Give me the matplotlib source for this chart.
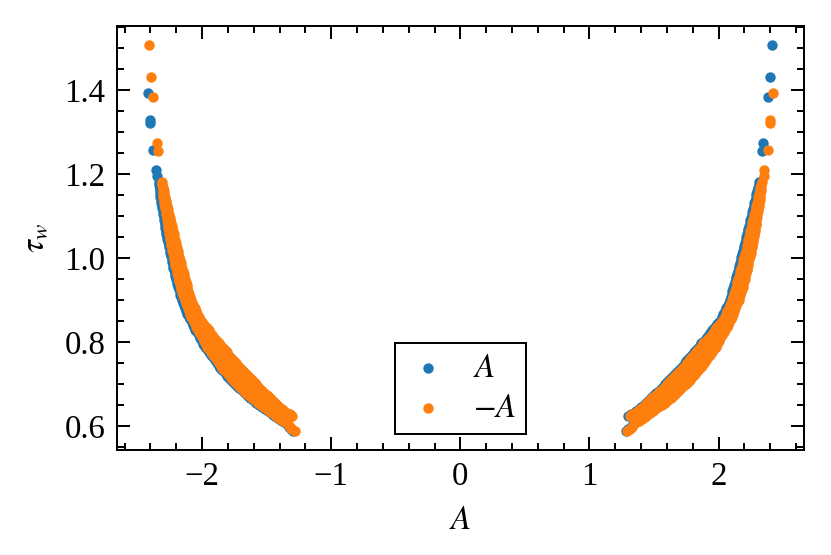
import numpy as np
import matplotlib.pyplot as plt

plt.rcParams['font.family'] = 'serif'
plt.rcParams['font.serif'] = ['Liberation Serif', 'DejaVu Serif']
plt.rcParams['mathtext.fontset'] = 'stix'
plt.rcParams['font.size'] = 10

# right branch (A > 0), read as three lines across the band
right_outer_A = [2.311, 2.309, 2.306, 2.304, 2.302, 2.300, 2.297, 2.293, 2.289, 2.286,
                 2.282, 2.278, 2.274, 2.271, 2.267, 2.264, 2.261, 2.258, 2.254, 2.250,
                 2.246, 2.242, 2.237, 2.233, 2.229, 2.225, 2.220, 2.216, 2.211, 2.207,
                 2.202, 2.197, 2.192, 2.187, 2.182, 2.177, 2.172, 2.166, 2.159, 2.153,
                 2.147, 2.141, 2.134, 2.126, 2.117, 2.109, 2.101, 2.093, 2.084, 2.073,
                 2.061, 2.050, 2.043, 2.032, 2.020, 2.007, 1.994, 1.981, 1.973, 1.960,
                 1.947, 1.932, 1.916, 1.901, 1.886, 1.871, 1.855, 1.842, 1.828, 1.815,
                 1.801, 1.787, 1.773, 1.760, 1.746, 1.730, 1.713, 1.697, 1.681, 1.665,
                 1.648, 1.632, 1.615, 1.592, 1.568, 1.547, 1.523, 1.500, 1.479, 1.458,
                 1.437, 1.416, 1.395, 1.374, 1.352, 1.335, 1.318, 1.301, 1.284]
right_outer_tau = [1.181, 1.174, 1.166, 1.159, 1.152, 1.145, 1.138, 1.131, 1.124, 1.118,
                   1.111, 1.104, 1.097, 1.091, 1.084, 1.078, 1.071, 1.065, 1.058, 1.052,
                   1.045, 1.038, 1.031, 1.025, 1.018, 1.011, 1.004, 0.997, 0.990, 0.984,
                   0.977, 0.971, 0.964, 0.958, 0.951, 0.945, 0.938, 0.932, 0.925, 0.919,
                   0.913, 0.907, 0.900, 0.894, 0.887, 0.880, 0.873, 0.867, 0.860, 0.854,
                   0.848, 0.841, 0.835, 0.829, 0.823, 0.816, 0.810, 0.803, 0.796, 0.789,
                   0.783, 0.777, 0.770, 0.764, 0.757, 0.751, 0.744, 0.739, 0.734, 0.730,
                   0.725, 0.720, 0.715, 0.710, 0.705, 0.701, 0.696, 0.691, 0.686, 0.681,
                   0.676, 0.671, 0.666, 0.661, 0.656, 0.651, 0.645, 0.641, 0.636, 0.631,
                   0.626, 0.622, 0.617, 0.613, 0.609, 0.604, 0.599, 0.594, 0.589]

right_mid_A = [2.052, 2.028, 2.005, 1.981, 1.957, 1.934, 1.911, 1.888, 1.865, 1.839,
               1.813, 1.787, 1.761, 1.733, 1.705, 1.677, 1.649, 1.615, 1.581, 1.547, 1.513]
right_mid_tau = [0.858, 0.848, 0.837, 0.827, 0.817, 0.807, 0.797, 0.787, 0.777, 0.766,
                 0.756, 0.746, 0.736, 0.726, 0.717, 0.707, 0.697, 0.687, 0.677, 0.667, 0.657]

right_inner_A = [2.301, 2.296, 2.291, 2.286, 2.281, 2.276, 2.271, 2.266, 2.260, 2.255,
                 2.250, 2.245, 2.240, 2.235, 2.229, 2.224, 2.219, 2.214, 2.209, 2.204,
                 2.199, 2.194, 2.189, 2.183, 2.177, 2.172, 2.166, 2.160, 2.154, 2.148,
                 2.142, 2.137, 2.131, 2.125, 2.119, 2.113, 2.106, 2.100, 2.093, 2.087,
                 2.080, 2.069, 2.058, 2.048, 2.037, 2.026, 2.015, 2.003, 1.991, 1.976,
                 1.961, 1.949, 1.937, 1.925, 1.913, 1.899, 1.885, 1.866, 1.852, 1.838,
                 1.824, 1.810, 1.796, 1.781, 1.766, 1.751, 1.736, 1.721, 1.706, 1.691,
                 1.676, 1.661, 1.645, 1.630, 1.614, 1.599, 1.584, 1.569, 1.553, 1.535,
                 1.517, 1.500, 1.482, 1.465, 1.451, 1.435, 1.419, 1.401, 1.381, 1.362,
                 1.342, 1.322, 1.302]
right_inner_tau = [1.166, 1.159, 1.151, 1.144, 1.136, 1.130, 1.123, 1.116, 1.109, 1.103,
                   1.096, 1.090, 1.083, 1.077, 1.070, 1.064, 1.057, 1.050, 1.043, 1.036,
                   1.029, 1.023, 1.016, 1.009, 1.002, 0.995, 0.988, 0.981, 0.974, 0.968,
                   0.961, 0.955, 0.949, 0.943, 0.936, 0.929, 0.922, 0.915, 0.908, 0.901,
                   0.894, 0.887, 0.880, 0.874, 0.867, 0.860, 0.853, 0.848, 0.843, 0.838,
                   0.833, 0.828, 0.822, 0.817, 0.812, 0.807, 0.802, 0.797, 0.791, 0.786,
                   0.781, 0.776, 0.770, 0.765, 0.760, 0.755, 0.749, 0.744, 0.739, 0.734,
                   0.728, 0.723, 0.718, 0.714, 0.709, 0.704, 0.699, 0.694, 0.689, 0.684,
                   0.679, 0.674, 0.669, 0.664, 0.659, 0.654, 0.649, 0.645, 0.640, 0.636,
                   0.632, 0.628, 0.623]

# left branch (A < 0), same tau levels, sits a little further out
left_outer_A = [-2.333, -2.331, -2.328, -2.326, -2.324, -2.322, -2.319, -2.315, -2.311, -2.308,
                -2.304, -2.300, -2.296, -2.293, -2.289, -2.286, -2.283, -2.280, -2.276, -2.272,
                -2.268, -2.264, -2.259, -2.255, -2.251, -2.247, -2.242, -2.236, -2.231, -2.227,
                -2.222, -2.217, -2.212, -2.207, -2.202, -2.197, -2.192, -2.186, -2.179, -2.173,
                -2.167, -2.161, -2.154, -2.146, -2.137, -2.129, -2.121, -2.113, -2.104, -2.093,
                -2.081, -2.070, -2.063, -2.052, -2.040, -2.027, -2.014, -2.001, -1.989, -1.976,
                -1.963, -1.948, -1.932, -1.917, -1.902, -1.887, -1.871, -1.858, -1.844, -1.831,
                -1.817, -1.803, -1.789, -1.776, -1.762, -1.746, -1.726, -1.710, -1.694, -1.678,
                -1.661, -1.645, -1.628, -1.605, -1.581, -1.560, -1.533, -1.510, -1.489, -1.468,
                -1.447, -1.426, -1.405, -1.384, -1.362, -1.345, -1.328, -1.311, -1.294]
left_mid_A = [-2.072, -2.048, -2.025, -2.001, -1.977, -1.954, -1.927, -1.904, -1.881, -1.855,
              -1.829, -1.803, -1.777, -1.749, -1.721, -1.693, -1.662, -1.628, -1.594, -1.560, -1.526]
left_inner_A = [-2.323, -2.318, -2.313, -2.308, -2.303, -2.298, -2.293, -2.288, -2.282, -2.277,
                -2.272, -2.267, -2.262, -2.257, -2.251, -2.246, -2.241, -2.236, -2.231, -2.226,
                -2.221, -2.216, -2.211, -2.205, -2.199, -2.192, -2.186, -2.180, -2.174, -2.168,
                -2.162, -2.157, -2.151, -2.145, -2.139, -2.133, -2.126, -2.120, -2.113, -2.107,
                -2.100, -2.089, -2.078, -2.068, -2.057, -2.046, -2.035, -2.023, -2.011, -1.996,
                -1.981, -1.969, -1.957, -1.945, -1.933, -1.919, -1.905, -1.882, -1.868, -1.854,
                -1.840, -1.826, -1.812, -1.797, -1.782, -1.767, -1.752, -1.737, -1.722, -1.707,
                -1.692, -1.677, -1.661, -1.646, -1.630, -1.615, -1.597, -1.582, -1.566, -1.548,
                -1.530, -1.513, -1.495, -1.478, -1.464, -1.448, -1.429, -1.411, -1.391, -1.372,
                -1.352, -1.332, -1.312]

# isolated points at the top of each branch
right_top_A = [2.411, 2.396, 2.382, 2.346, 2.338]
right_top_tau = [1.506, 1.430, 1.382, 1.274, 1.254]
left_top_A = [-2.419, -2.401, -2.401, -2.380, -2.355, -2.349]
left_top_tau = [1.392, 1.327, 1.320, 1.256, 1.210, 1.196]

A = np.concatenate([right_outer_A, right_mid_A, right_inner_A, right_top_A,
                    left_outer_A, left_mid_A, left_inner_A, left_top_A])
tau = np.concatenate([right_outer_tau, right_mid_tau, right_inner_tau, right_top_tau,
                      right_outer_tau, right_mid_tau, right_inner_tau, left_top_tau])

fig, ax = plt.subplots(figsize=(831/237, 555/237), dpi=237)
fig.subplots_adjust(left=0.1404, right=0.9675, bottom=0.1892, top=0.9532)

ax.scatter(A, tau, s=10, linewidths=0, color='C0', label='$A$')
ax.scatter(-A, tau, s=10, linewidths=0, color='C1', label='$-A$')

ax.set_xlabel('$A$')
ax.set_ylabel(r'$\tau_w$')
ax.minorticks_on()
ax.tick_params(which='both', direction='in', top=True, right=True, width=0.6)
ax.tick_params(which='major', length=4)
ax.tick_params(which='minor', length=2)
for sp in ax.spines.values():
    sp.set_linewidth(0.6)

leg = ax.legend(loc='lower center', frameon=True, fancybox=False, edgecolor='black',
                framealpha=1, borderpad=0.3, labelspacing=0.29,
                handlelength=1.42, handletextpad=0.67)
leg.get_frame().set_linewidth(0.6)

plt.savefig('out.png', dpi=237)
